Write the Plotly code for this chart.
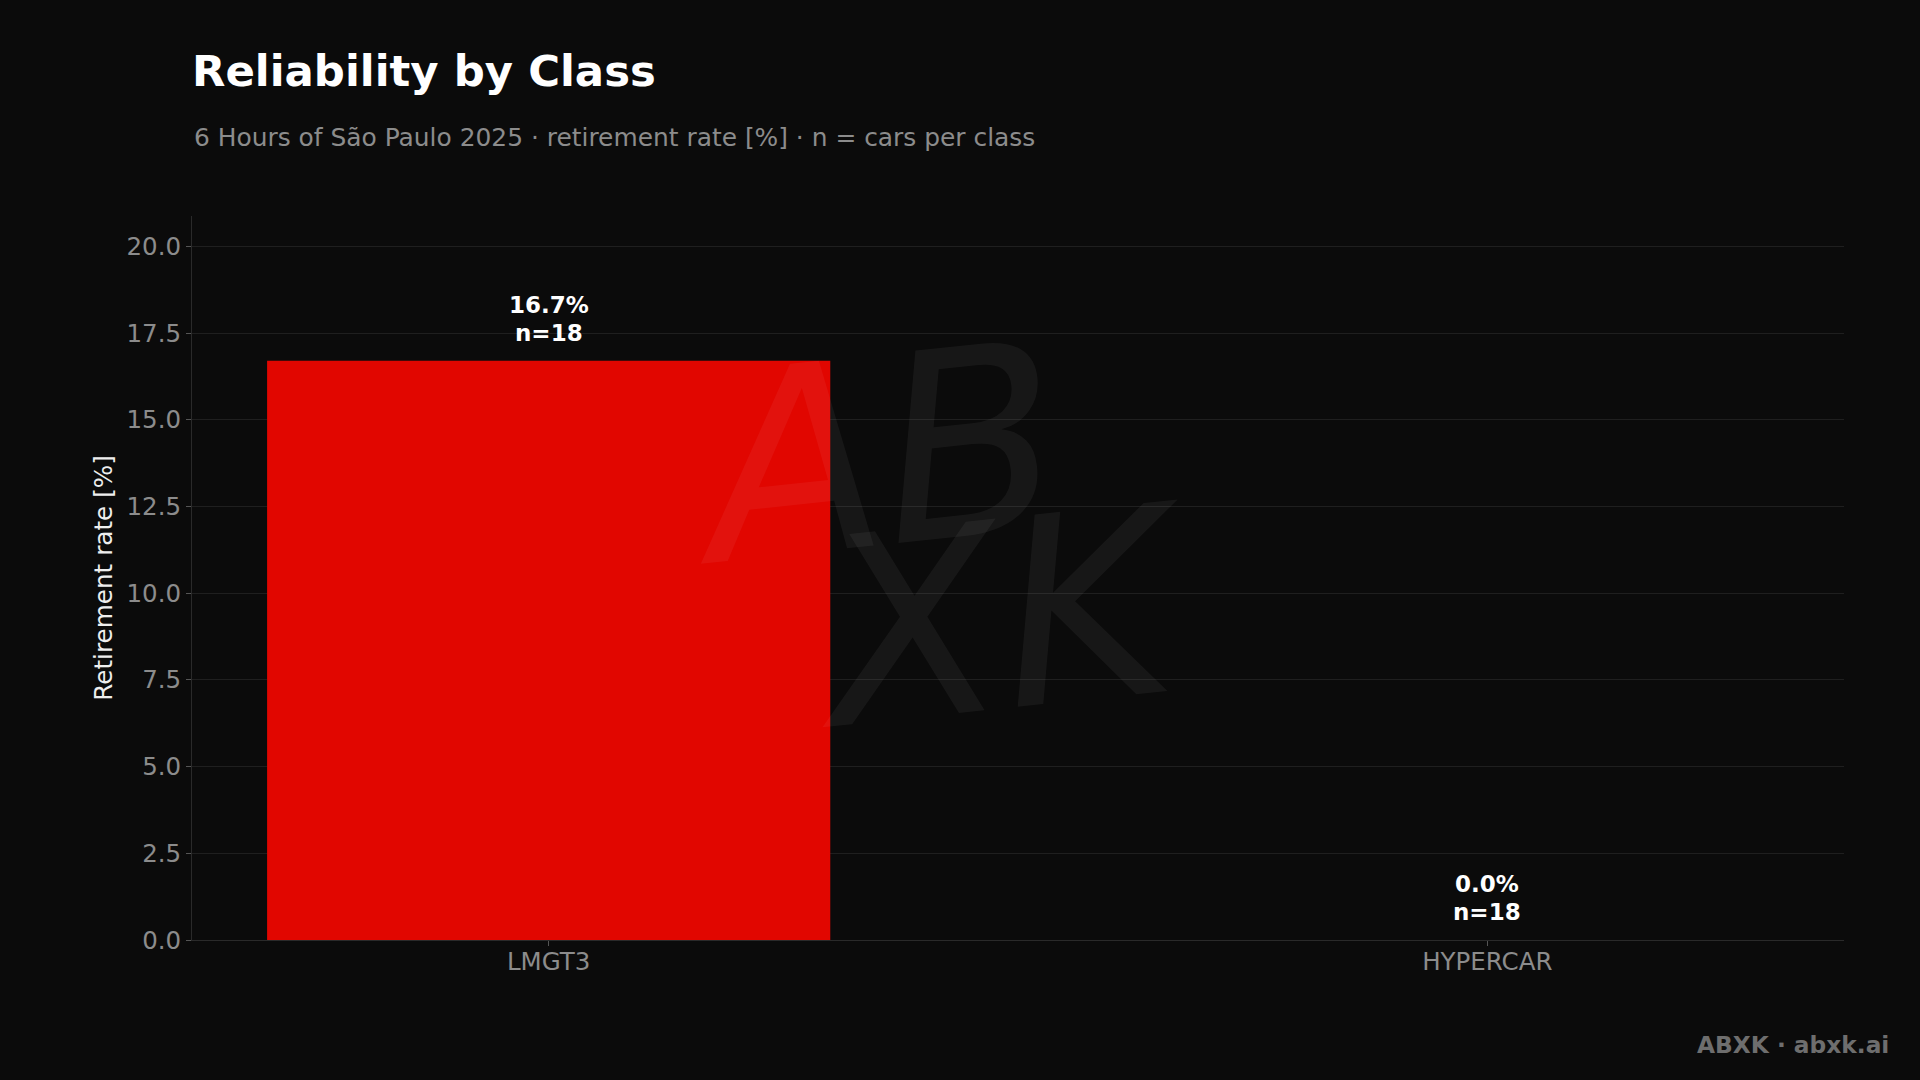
import plotly.graph_objects as go

classes = ["LMGT3", "HYPERCAR"]
retire_rate = [16.7, 0.0]
cars = [18, 18]
y_ticks = [0.0, 2.5, 5.0, 7.5, 10.0, 12.5, 15.0, 17.5, 20.0]

BG = "#0b0b0b"
FONT = "DejaVu Sans"

fig = go.Figure()
fig.add_trace(go.Bar(
    x=list(range(len(classes))), y=retire_rate, width=0.6,
    marker=dict(color="#e10600", line=dict(width=0)),
    hoverinfo="skip", showlegend=False,
))

for i, (v, n) in enumerate(zip(retire_rate, cars)):
    for txt, shift in [(f"<b>n={n}</b>", 13), (f"<b>{v:.1f}%</b>", 41)]:
        fig.add_annotation(
            x=i, y=v, xref="x", yref="y", text=txt,
            showarrow=False, yanchor="bottom", xanchor="center", yshift=shift,
            font=dict(family=FONT, size=23, color="#ffffff"), align="center",
        )

# watermark
for txt, wx, wy in [("AB", 0.413, 0.67), ("XK", 0.49, 0.445)]:
    fig.add_annotation(
        x=wx, y=wy, xref="paper", yref="paper", text=f"<i>{txt}</i>",
        xanchor="center", yanchor="middle",
        showarrow=False,
        font=dict(family=FONT, size=260, color="rgba(255,255,255,0.05)", weight=200),
        textangle=-6, align="center",
    )

# subtitle
fig.add_annotation(
    x=0, y=1.109, xref="paper", yref="paper", xanchor="left", yanchor="middle",
    text="6 Hours of São Paulo 2025 · retirement rate [%] · n = cars per class",
    showarrow=False, font=dict(family=FONT, size=24.9, color="#8c8c8c"),
)
# footer
fig.add_annotation(
    x=1.0285, y=-0.145, xref="paper", yref="paper", xanchor="right", yanchor="middle",
    text="<b>ABXK · abxk.ai</b>", showarrow=False,
    font=dict(family=FONT, size=23.3, color="#6e6e6e"),
)

fig.update_layout(
    width=1920, height=1080,
    paper_bgcolor=BG, plot_bgcolor=BG,
    margin=dict(l=192, r=76, t=216, b=140),
    title=dict(text="<b>Reliability by Class</b>", x=0.1, xanchor="left", xref="container",
               y=1 - 71 / 1080, yanchor="middle", yref="container",
               font=dict(family=FONT, size=43.4, color="#ffffff")),
    font=dict(family=FONT),
    xaxis=dict(
        range=[-0.38, 1.38], tickmode="array", tickvals=list(range(len(classes))), ticktext=classes,
        showgrid=False, zeroline=False, showline=True, linecolor="#2a2a2a", linewidth=1,
        ticks="outside", ticklen=5, tickcolor="#555555", ticklabelstandoff=-5,
        tickfont=dict(family=FONT, size=24.5, color="#8c8c8c"),
    ),
    yaxis=dict(
        range=[0, 20.875], tickmode="array", tickvals=y_ticks,
        ticktext=[f"{t:.1f}" for t in y_ticks],
        showgrid=True, gridcolor="#1f1f1f", gridwidth=1, zeroline=False,
        showline=True, linecolor="#2a2a2a", linewidth=1,
        ticks="outside", ticklen=5, tickcolor="#555555",
        tickfont=dict(family=FONT, size=24.5, color="#8c8c8c"),
        title=dict(text="Retirement rate [%]", standoff=6,
                   font=dict(family=FONT, size=24.7, color="#eeeeee")),
    ),
)

fig.write_html("out.html", config={"displayModeBar": False},
               post_script="document.body.style.margin='0';document.body.style.overflow='hidden';")
